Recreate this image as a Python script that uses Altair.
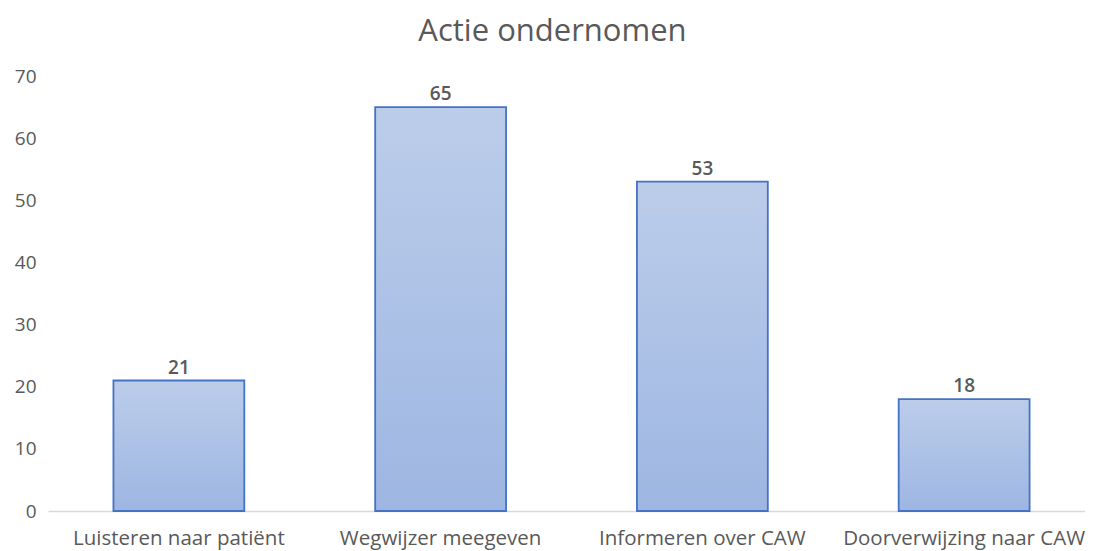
import altair as alt
import pandas as pd

categories = ["Luisteren naar patiënt", "Wegwijzer meegeven", "Informeren over CAW", "Doorverwijzing naar CAW"]
values = [21, 65, 53, 18]
y_ticks = [0, 10, 20, 30, 40, 50, 60, 70]

df = pd.DataFrame({"cat": categories, "val": values})

FONT = "Open Sans"
GREY = "#595959"

x_enc = alt.X("cat:N", sort=categories, title=None,
              scale=alt.Scale(paddingInner=0.5, paddingOuter=0.25, range=[0, 1047]),
              axis=alt.Axis(labelAngle=0, domainColor="#d9d9d9", domainWidth=1.5, ticks=False,
                            labelFontSize=20.5, labelColor=GREY, labelFont=FONT, labelPadding=17,
                            labelLimit=0, labelFontWeight="normal"))
y_enc = alt.Y("val:Q", title=None,
              scale=alt.Scale(domain=[0, 70], nice=False),
              axis=alt.Axis(values=y_ticks, domain=False, ticks=False, grid=False,
                            labelFontSize=19, labelColor=GREY, labelFont=FONT, labelPadding=12))

gradient = alt.Gradient(gradient="linear",
                        stops=[alt.GradientStop(color="#bccdea", offset=0),
                               alt.GradientStop(color="#9db6e2", offset=1)],
                        x1=0, x2=0, y1=0, y2=1)

bars = alt.Chart(df).mark_bar(color=gradient, stroke="#4472c4", strokeWidth=1.8).encode(
    x=x_enc, y=y_enc)

labels = alt.Chart(df).mark_text(baseline="bottom", dy=-3, fontSize=19, font=FONT,
                                 color=GREY, fontWeight=600).encode(
    x=alt.X("cat:N", sort=categories), y="val:Q", text="val:Q")

chart = alt.layer(bars, labels).properties(
    width=1037, height=435,
    title=alt.TitleParams("Actie ondernomen", fontSize=31, font=FONT, color=GREY,
                          fontWeight="normal", anchor="middle", dx=-14, offset=19),
    autosize=alt.AutoSizeParams(type="none"),
    padding={"left": 40, "top": 68, "right": 0, "bottom": 40},
).configure_view(stroke=None)

chart.save("out.html", embed_options={"renderer": "svg", "actions": False})
